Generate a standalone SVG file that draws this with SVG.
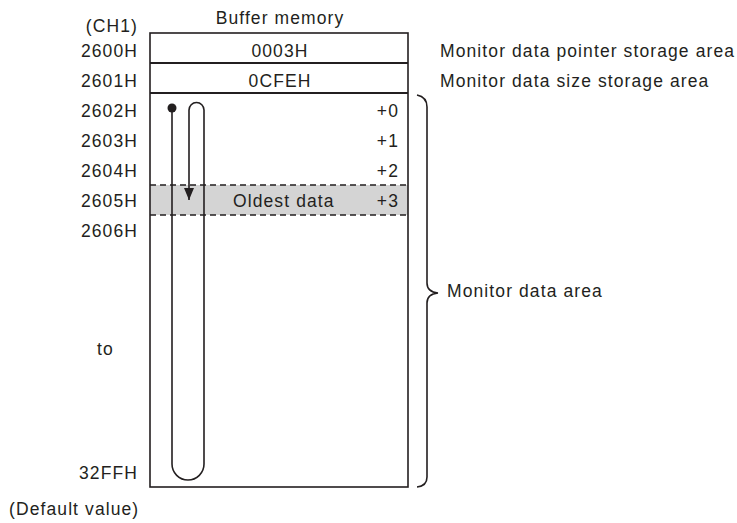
<svg xmlns="http://www.w3.org/2000/svg" width="737" height="523" viewBox="0 0 737 523">
<style>
text{font-family:"Liberation Sans",Arial,sans-serif;font-size:17.5px;letter-spacing:1.1px;fill:#231f20}
.e{text-anchor:end}
.m{text-anchor:middle}
.ln{fill:none;stroke:#231f20;stroke-width:1.6}
.dash{fill:none;stroke:#231f20;stroke-width:1.6;stroke-dasharray:6,4}
</style>
<defs>
<marker id="ah" markerWidth="12" markerHeight="10" refX="12" refY="5" orient="auto" markerUnits="userSpaceOnUse" viewBox="0 0 12 10">
<path d="M0,0 L12,5 L0,10 Z" fill="#231f20"/>
</marker>
</defs>
<g id="labels-left">
<text class="e" x="138" y="32">(CH1)</text>
<text class="e" x="138" y="57">2600H</text>
<text class="e" x="138" y="87">2601H</text>
<text class="e" x="138" y="117">2602H</text>
<text class="e" x="138" y="147">2603H</text>
<text class="e" x="138" y="177">2604H</text>
<text class="e" x="138" y="207">2605H</text>
<text class="e" x="138" y="237">2606H</text>
<text x="97" y="355">to</text>
<text class="e" x="138" y="479">32FFH</text>
<text x="9" y="515">(Default value)</text>
</g>
<g id="buffer-memory">
<text class="m" x="280" y="24">Buffer memory</text>
<rect x="150" y="185" width="258" height="30" fill="#d4d4d4"/>
<rect class="ln" x="150" y="33" width="258" height="454"/>
<line x1="150" y1="63" x2="408" y2="63" stroke="#231f20" stroke-width="2"/>
<line x1="150" y1="93" x2="408" y2="93" stroke="#231f20" stroke-width="2"/>
<line class="dash" x1="150" y1="185" x2="408" y2="185"/>
<line class="dash" x1="150" y1="215" x2="408" y2="215"/>
<text class="m" x="280" y="57">0003H</text>
<text class="m" x="280" y="87">0CFEH</text>
<text class="e" x="399" y="117">+0</text>
<text class="e" x="399" y="147">+1</text>
<text class="e" x="399" y="177">+2</text>
<text class="e" x="399" y="207">+3</text>
<text x="233" y="207">Oldest data</text>
</g>
<g id="connectors">
<circle cx="172" cy="108" r="4.5" fill="#231f20"/>
<path class="ln" d="M172,108 L172,464 A16,16 0 0 0 204,464 L204,110 A7.5,7.5 0 0 0 189,110 L189,200" marker-end="url(#ah)"/>
</g>
<g id="brace">
<path class="ln" d="M417,95 Q427,97 427,107 L427,283 Q427,292 438,293 Q427,294 427,303 L427,477 Q427,486 417,487"/>
</g>
<g id="labels-right">
<text x="440" y="57">Monitor data pointer storage area</text>
<text x="440" y="87">Monitor data size storage area</text>
<text x="447" y="297">Monitor data area</text>
</g>
</svg>
